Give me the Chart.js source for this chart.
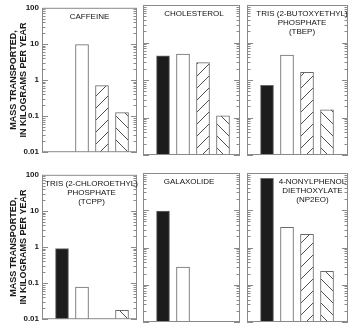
<!DOCTYPE html>
<html>
<head>
<meta charset="utf-8">
<script src="https://cdn.jsdelivr.net/npm/chart.js@4"></script>
<style>
body { margin: 0; background: #fff; }
#wrap { position: relative; width: 350px; height: 327px; overflow: hidden; }
#wrap canvas { position: absolute; }
</style>
</head>
<body>
<div id="wrap"></div>
<script>
// compostos, um painel por composto
var compounds = ['CAFFEINE', 'CHOLESTEROL', 'TBEP', 'TCPP', 'GALAXOLIDE', 'NP2EO'];
var panelTitles = [
    ['CAFFEINE'],
    ['CHOLESTEROL'],
    ['TRIS (2-BUTOXYETHYL)', 'PHOSPHATE', '(TBEP)'],
    ['TRIS (2-CHLOROETHYL)', 'PHOSPHATE', '(TCPP)'],
    ['GALAXOLIDE'],
    ['4-NONYLPHENOL', 'DIETHOXYLATE', '(NP2EO)']
];

// quatro barras por painel (kg por ano), null = sem barra
var solidBar = [null, 4.4, 0.72, 0.9, 9.5, 72];
var openBar = [9.5, 4.9, 4.6, 0.078, 0.3, 3.5];
var hatchUpBar = [0.7, 2.9, 1.6, null, null, 2.25];
var hatchDownBar = [0.125, 0.11, 0.16, 0.0175, null, 0.23];

// eixo y
var yTickValues = [0.01, 0.1, 1, 10, 100];
var yTickLabels = ['0.01', '0.1', '1', '10', '100'];
var yTitle = ['MASS TRANSPORTED,', 'IN KILOGRAMS PER YEAR'];

// posicao dos paineis (canvas) e deslocamento do titulo
var cols = [
    { left: 0, width: 139, pad: { left: 0, right: 2 } },
    { left: 141, width: 101, pad: { left: 2, right: 2 } },
    { left: 245, width: 105, pad: { left: 2, right: 2 } }
];
var rows = [
    { top: 0, height: 160, pad: { top: 5, bottom: 5 } },
    { top: 167, height: 160, pad: { top: 6, bottom: 5 } }
];
var titleShift = [0, 2.5, 4.5, 2, -2.5, 15];

var FONT = "'Liberation Sans', Arial, sans-serif";

//padrao hachurado
function hatch(ctx, up) {
    var c = document.createElement('canvas');
    c.width = 12; c.height = 12;
    var g = c.getContext('2d');
    g.fillStyle = '#fff';
    g.fillRect(0, 0, 12, 12);
    g.strokeStyle = '#3a3a3a';
    g.lineWidth = 0.9;
    g.beginPath();
    if (up) {
        g.moveTo(-1, 13); g.lineTo(13, -1);
        g.moveTo(-1, 1); g.lineTo(1, -1);
        g.moveTo(11, 13); g.lineTo(13, 11);
    } else {
        g.moveTo(-1, -1); g.lineTo(13, 13);
        g.moveTo(11, -1); g.lineTo(13, 1);
        g.moveTo(-1, 11); g.lineTo(1, 13);
    }
    g.stroke();
    return ctx.createPattern(c, 'repeat');
}

// moldura, marcas do eixo (dentro do painel) e titulo
var panelPlugin = {
    id: 'panelFrame',
    afterDatasetsDraw: function (chart, args, opts) {
        var ctx = chart.ctx, a = chart.chartArea, y = chart.scales.y;
        ctx.save();
        ctx.strokeStyle = '#8a8a8a';
        ctx.lineWidth = 1;
        ctx.beginPath();
        for (var e = -2; e < 2; e++) {
            for (var m = 1; m < 10; m++) {
                var v = m * Math.pow(10, e);
                var py = Math.round(y.getPixelForValue(v)) + 0.5;
                var len = m === 1 ? 6 : 3.5;
                ctx.moveTo(a.left, py); ctx.lineTo(a.left + len, py);
                ctx.moveTo(a.right, py); ctx.lineTo(a.right - len, py);
            }
        }
        ctx.stroke();
        ctx.strokeRect(a.left + 0.5, a.top + 0.5, a.right - a.left - 1, a.bottom - a.top - 1);

        ctx.fillStyle = '#111';
        ctx.font = '8px ' + FONT;
        ctx.textAlign = 'center';
        ctx.textBaseline = 'middle';
        var cx = (a.left + a.right) / 2 + opts.shift;
        opts.lines.forEach(function (t, k) {
            ctx.fillText(t, cx, a.top + 8.5 + k * 9);
        });
        ctx.restore();
    }
};

var wrap = document.getElementById('wrap');

compounds.forEach(function (name, i) {
    var col = cols[i % 3], row = rows[Math.floor(i / 3)];
    var first = i % 3 === 0;
    var canvas = document.createElement('canvas');
    canvas.width = col.width;
    canvas.height = row.height;
    canvas.style.left = col.left + 'px';
    canvas.style.top = row.top + 'px';
    wrap.appendChild(canvas);
    var ctx = canvas.getContext('2d');

    var values = [solidBar[i], openBar[i], hatchUpBar[i], hatchDownBar[i]];
    var plotWidth = col.width - col.pad.left - col.pad.right - (first ? 42 : 0);

    new Chart(ctx, {
        type: 'bar',
        data: {
            datasets: [{
                label: name,
                data: values.map(function (v, k) { return { x: k + 1, y: v }; }),
                backgroundColor: ['#1c1c1c', '#ffffff', hatch(ctx, true), hatch(ctx, false)],
                borderColor: '#6a6a6a',
                borderWidth: 1,
                barThickness: 13
            }]
        },
        options: {
            responsive: false,
            animation: false,
            layout: { padding: { left: col.pad.left, right: col.pad.right, top: row.pad.top, bottom: row.pad.bottom } },
            plugins: {
                legend: { display: false },
                tooltip: { enabled: false },
                panelFrame: { lines: panelTitles[i], shift: titleShift[i] }
            },
            scales: {
                x: {
                    type: 'linear',
                    display: false,
                    offset: false,
                    min: 0,
                    max: plotWidth / 20
                },
                y: {
                    type: 'logarithmic',
                    min: 0.01,
                    max: 100,
                    display: first,
                    afterFit: function (s) { s.width = first ? 42 : 0; },
                    grid: { display: false, drawTicks: false },
                    border: { display: false },
                    ticks: {
                        autoSkip: false,
                        padding: 3,
                        color: '#1a1a1a',
                        font: { family: FONT, size: 8, weight: 'bold' },
                        callback: function (v) {
                            for (var k = 0; k < yTickValues.length; k++) {
                                if (Math.abs(Math.log10(v) - Math.log10(yTickValues[k])) < 1e-6) return yTickLabels[k];
                            }
                            return '';
                        }
                    },
                    title: {
                        display: true,
                        text: yTitle,
                        color: '#1a1a1a',
                        font: { family: FONT, size: 9, weight: 'bold', lineHeight: 1.1 },
                        padding: { top: 9, bottom: 0 }
                    }
                }
            }
        },
        plugins: [panelPlugin]
    });
});
</script>
</body>
</html>
